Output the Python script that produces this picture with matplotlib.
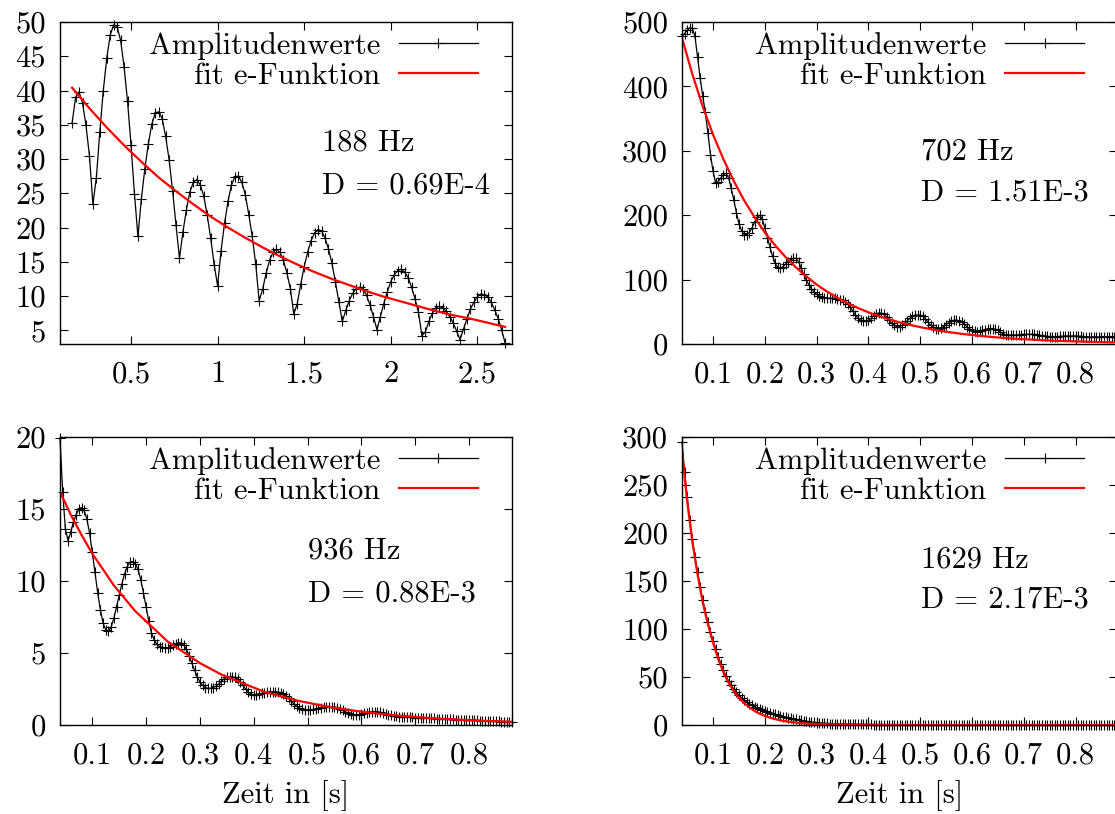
import numpy as np
import matplotlib
matplotlib.use("Agg")
import matplotlib.pyplot as plt
from matplotlib.ticker import FormatStrFormatter

plt.rcParams['font.family'] = ['cmr10', 'DejaVu Serif']
plt.rcParams['font.size'] = 22
plt.rcParams['axes.formatter.use_mathtext'] = True
plt.rcParams['mathtext.fontset'] = 'cm'

# --- 188 Hz: amplitude values (start 0.16 s, step 0.02 s) ---
amp188_t0, amp188_dt = 0.16, 0.02
amp188 = [35.3, 39.0, 39.8, 38.2, 34.9, 30.5, 23.4, 27.3, 34.0, 40.0,
          44.7, 48.1, 49.6, 49.3, 47.3, 43.5, 38.4, 32.1, 24.9, 18.7,
          24.2, 28.6, 32.2, 35.1, 36.7, 36.9, 35.9, 33.3, 29.9, 25.4,
          20.3, 15.5, 19.4, 22.6, 25.2, 26.6, 27.0, 26.2, 24.6, 21.8,
          18.5, 14.6, 11.5, 16.6, 20.6, 23.8, 26.2, 27.4, 27.5, 26.6,
          24.8, 21.9, 18.7, 14.7, 9.3, 11.0, 13.3, 15.2, 16.4, 16.8,
          16.4, 15.2, 13.4, 11.1, 7.4, 8.9, 11.7, 14.3, 16.4, 18.1,
          19.2, 19.7, 19.5, 18.5, 16.9, 14.8, 12.1, 9.2, 6.3, 7.9,
          9.3, 10.4, 11.1, 11.3, 11.0, 10.1, 8.7, 7.0, 5.1, 7.0,
          8.9, 10.6, 12.1, 13.1, 13.7, 13.9, 13.5, 12.7, 11.3, 9.6,
          7.6, 4.2, 4.8, 6.3, 7.5, 8.3, 8.5, 8.3, 7.8, 7.0,
          6.1, 4.9, 3.6, 5.2, 6.7, 8.1, 9.1, 9.9, 10.3, 10.2,
          9.85, 9.1, 8.0, 6.7, 5.1, 3.15]
# fit curve (start 0.16 s, step 0.1 s)
fit188_t0, fit188_dt = 0.16, 0.1
fit188 = [40.4, 37.4, 34.6, 32.0, 29.6, 27.3, 25.3, 23.4, 21.6, 20.0,
          18.5, 17.1, 15.8, 14.6, 13.5, 12.5, 11.6, 10.7, 9.9, 9.2,
          8.5, 7.8, 7.2, 6.7, 6.1, 5.5]

# --- 702 Hz (start 0.04 s, step 0.005 s) ---
amp702_t0, amp702_dt = 0.04, 0.005
amp702 = [478, 482, 487, 491, 490, 478, 446, 413, 385, 360,
          328, 294, 268, 250, 252, 258, 263, 265, 258, 242,
          224, 204, 187, 176, 170, 170, 173, 180, 189, 197,
          200, 194, 180, 165, 150, 136, 125, 119, 118, 120,
          124, 128, 131, 133, 133, 128, 118, 108, 99, 92,
          86, 81, 77, 75, 73, 72, 71, 71, 71, 71,
          70, 69, 68, 65, 62, 57, 51, 45, 40, 37,
          35, 35, 37, 40, 44, 47, 48, 48, 46, 42,
          37, 32, 29, 27, 27, 29, 32, 36, 40, 43,
          45, 45, 45, 43, 39, 34, 29, 26, 24, 24,
          25, 27, 30, 33, 35, 37, 37, 36, 34, 31,
          27, 24, 21, 19.5, 19, 19.5, 21, 22.5, 23.5, 24,
          24, 23, 21, 18.5, 16, 14.5, 14, 14, 14, 14,
          14, 14.5, 15, 15, 15, 15, 15, 14.5, 14, 13,
          12.5, 12, 11.5, 11.5, 11.5, 11.5, 12, 12, 12.5, 12.5,
          12.5, 12.5, 12.5, 12, 12, 11.5, 11.5, 11, 11, 11,
          11, 11, 11.5, 11.5, 11.5, 11.5, 11.5, 11.5, 11.5]
fit702_t0, fit702_dt = 0.04, 0.02
fit702 = [475, 419, 369, 325, 287, 253, 223, 197, 173, 153,
          135, 119, 105, 92.3, 81.4, 71.7, 63.2, 55.8, 49.2, 43.3,
          38.2, 33.7, 29.7, 26.2, 23.1, 20.3, 17.9, 15.8, 13.9, 12.3,
          10.8, 9.5, 8.4, 7.4, 6.5, 5.8, 5.1, 4.5, 4.0, 3.5,
          3.1, 2.7, 2.4]

# --- 936 Hz (start 0.04 s, step 0.005 s) ---
amp936_t0, amp936_dt = 0.04, 0.005
amp936 = [19.9, 16.2, 13.6, 12.8, 13.4, 14.1, 14.6, 15.0, 15.1, 14.9,
          14.3, 13.3, 12.0, 10.6, 9.2, 8.0, 7.1, 6.6, 6.5, 6.8,
          7.4, 8.2, 9.0, 9.8, 10.5, 11.0, 11.3, 11.35, 11.2, 10.8,
          10.1, 9.2, 8.2, 7.2, 6.4, 5.9, 5.6, 5.45, 5.4, 5.35,
          5.35, 5.45, 5.55, 5.65, 5.7, 5.7, 5.55, 5.25, 4.8, 4.3,
          3.8, 3.35, 3.0, 2.75, 2.6, 2.55, 2.55, 2.6, 2.7, 2.85,
          3.05, 3.2, 3.3, 3.35, 3.35, 3.3, 3.2, 3.0, 2.75, 2.5,
          2.3, 2.15, 2.1, 2.1, 2.15, 2.2, 2.25, 2.3, 2.3, 2.3,
          2.3, 2.3, 2.25, 2.15, 2.0, 1.85, 1.65, 1.45, 1.3, 1.17,
          1.1, 1.06, 1.05, 1.05, 1.08, 1.12, 1.17, 1.21, 1.25, 1.27,
          1.27, 1.27, 1.25, 1.2, 1.12, 1.02, 0.92, 0.82, 0.75, 0.71,
          0.7, 0.72, 0.76, 0.81, 0.86, 0.9, 0.92, 0.93, 0.92, 0.89,
          0.84, 0.78, 0.72, 0.66, 0.62, 0.6, 0.58, 0.58, 0.58, 0.57,
          0.55, 0.53, 0.51, 0.5, 0.49, 0.48, 0.47, 0.47, 0.46, 0.46,
          0.45, 0.44, 0.43, 0.42, 0.41, 0.4, 0.39, 0.38, 0.37, 0.36,
          0.36, 0.35, 0.35, 0.34, 0.33, 0.32, 0.31, 0.3, 0.29, 0.28,
          0.27, 0.26, 0.26, 0.25, 0.24, 0.24, 0.23, 0.23, 0.22]
fit936_t0, fit936_dt = 0.04, 0.02
fit936 = [16.2, 14.6, 13.2, 11.9, 10.8, 9.7, 8.8, 7.9, 7.2, 6.5,
          5.8, 5.3, 4.8, 4.3, 3.9, 3.5, 3.2, 2.9, 2.6, 2.3,
          2.1, 1.9, 1.7, 1.55, 1.40, 1.26, 1.14, 1.03, 0.93, 0.84,
          0.76, 0.68, 0.62, 0.56, 0.50, 0.45, 0.41, 0.37, 0.33, 0.30,
          0.27, 0.25, 0.22]

# --- 1629 Hz (start 0.04 s, step 0.005 s) ---
amp1629_t0, amp1629_dt = 0.04, 0.005
amp1629 = [295, 264, 238, 214, 194, 175, 159, 144, 130, 118,
           107, 97, 88, 79, 71, 64, 57, 51, 46, 41.5,
           37.5, 34, 31, 28.3, 26, 24, 22.2, 20.6, 19.1, 17.7,
           16.4, 15.2, 14.1, 13.2, 12.4, 11.7, 11.0,
           10.2, 9.5, 8.8, 8.1, 7.5, 6.9, 6.3, 5.8, 5.3, 4.8,
           4.3, 3.9, 3.5, 3.1, 2.8, 2.5, 2.2, 2.0, 1.8, 1.6,
           1.4, 1.3, 1.2, 1.1, 1.0, 0.9,
           0.85, 0.8, 0.76, 0.72, 0.68, 0.65, 0.62, 0.6, 0.58, 0.56,
           0.54, 0.52, 0.5, 0.49, 0.48, 0.47, 0.46, 0.45, 0.44, 0.43,
           0.42, 0.41, 0.41, 0.4, 0.4, 0.39, 0.39, 0.38, 0.38, 0.37,
           0.37, 0.36, 0.36, 0.36, 0.35, 0.35, 0.35, 0.34, 0.34, 0.34,
           0.34, 0.33, 0.33, 0.33, 0.33, 0.32, 0.32, 0.32, 0.32, 0.32,
           0.31, 0.31, 0.31, 0.31, 0.31, 0.31, 0.31, 0.31, 0.31, 0.31,
           0.31, 0.3, 0.3, 0.3, 0.3, 0.3, 0.3, 0.3, 0.3, 0.3,
           0.3, 0.3, 0.3, 0.3, 0.3, 0.3, 0.3, 0.3, 0.3, 0.3,
           0.3, 0.3, 0.3, 0.3, 0.3, 0.3, 0.3, 0.3, 0.3, 0.3,
           0.29, 0.29, 0.29, 0.29, 0.29, 0.29, 0.29, 0.29, 0.29, 0.29,
           0.29, 0.29, 0.29, 0.29, 0.29, 0.29]
fit1629_t0, fit1629_dt = 0.04, 0.01
fit1629 = [285, 233, 191, 157, 128, 105, 86, 69, 55, 44,
           35.5, 28.5, 22.9, 18.4, 14.7, 11.8, 9.5, 7.6, 6.1, 4.9,
           3.9, 3.2, 2.5, 2.0, 1.6, 1.3, 1.05, 0.84, 0.67, 0.54,
           0.43, 0.34, 0.27, 0.22, 0.17, 0.14, 0.11, 0.09, 0.07, 0.06,
           0.04, 0.03, 0.03, 0.02, 0.02, 0.02, 0.01, 0.01, 0.01, 0.01,
           0.01, 0.01, 0.01, 0.01, 0.01, 0.01, 0.01, 0.01, 0.01, 0.01,
           0.01, 0.01, 0.01, 0.01, 0.01, 0.01, 0.01, 0.01, 0.01, 0.01,
           0.01, 0.01, 0.01, 0.01, 0.01, 0.01, 0.01, 0.01, 0.01, 0.01,
           0.01, 0.01, 0.01, 0.01, 0.01]

freq_labels = ['188 Hz', '702 Hz', '936 Hz', '1629 Hz']
damping_labels = ['D = 0.69E-4', 'D = 1.51E-3', 'D = 0.88E-3', 'D = 2.17E-3']


def times(t0, dt, vals):
    return t0 + dt * np.arange(len(vals))


fig = plt.figure(figsize=(11.15, 8.14), dpi=100)

W, H = 1115.0, 814.0


def px_axes(l, t, r, b):
    return fig.add_axes([l / W, 1 - b / H, (r - l) / W, (b - t) / H])


axs = [px_axes(60, 22, 512, 344), px_axes(682, 22, 1117, 344),
       px_axes(60, 437, 512, 725), px_axes(682, 437, 1117, 725)]

panels = [
    (times(amp188_t0, amp188_dt, amp188), amp188,
     times(fit188_t0, fit188_dt, fit188), fit188,
     (0.09, 2.7), (3, 50), [0.5, 1, 1.5, 2, 2.5], np.arange(5, 51, 5),
     (0.58, 0.624, 0.49)),
    (times(amp702_t0, amp702_dt, amp702), amp702,
     times(fit702_t0, fit702_dt, fit702), fit702,
     (0.04, 0.88), (0, 500), np.arange(0.1, 0.81, 0.1), np.arange(0, 501, 100),
     (0.549, 0.596, 0.469)),
    (times(amp936_t0, amp936_dt, amp936), amp936,
     times(fit936_t0, fit936_dt, fit936), fit936,
     (0.04, 0.88), (0, 20), np.arange(0.1, 0.81, 0.1), np.arange(0, 21, 5),
     (0.549, 0.604, 0.455)),
    (times(amp1629_t0, amp1629_dt, amp1629), amp1629,
     times(fit1629_t0, fit1629_dt, fit1629), fit1629,
     (0.04, 0.88), (0, 300), np.arange(0.1, 0.81, 0.1), np.arange(0, 301, 50),
     (0.549, 0.573, 0.434)),
]

for i, (ax, p) in enumerate(zip(axs, panels)):
    ta, a, tf, f, xl, yl, xt, yt, (tx, ty1, ty2) = p
    ax.plot(ta, a, color='black', lw=0.9, marker='+', ms=6.5, mew=0.8,
            label='Amplitudenwerte', clip_on=False)
    ax.plot(tf, f, color='#ff0000', lw=1.6, label='fit e-Funktion')
    ax.set_xlim(*xl)
    ax.set_ylim(*yl)
    ax.set_xticks(xt)
    ax.set_yticks(yt)
    ax.xaxis.set_major_formatter(FormatStrFormatter('%g'))
    ax.yaxis.set_major_formatter(FormatStrFormatter('%g'))
    ax.tick_params(direction='in', length=6, width=0.8, top=True, right=True)
    ax.tick_params(axis='x', pad=12)
    ax.tick_params(axis='y', pad=10)
    for s in ax.spines.values():
        s.set_linewidth(1.0)
    # legend sits a fixed number of pixels below the top border
    h_px = ax.get_position().height * H
    ax.legend(loc='upper right', bbox_to_anchor=(0.925, 1 - 10.0 / h_px),
              frameon=False, markerfirst=False, numpoints=1, handlelength=2.6,
              handletextpad=0.6, labelspacing=0.07, borderpad=0,
              borderaxespad=0)
    ax.text(tx, ty1, freq_labels[i], transform=ax.transAxes, va='center', ha='left')
    ax.text(tx, ty2, damping_labels[i], transform=ax.transAxes, va='center', ha='left')
    if i >= 2:
        ax.set_xlabel('Zeit in [s]', labelpad=8)

fig.savefig('out.png', dpi=100)
